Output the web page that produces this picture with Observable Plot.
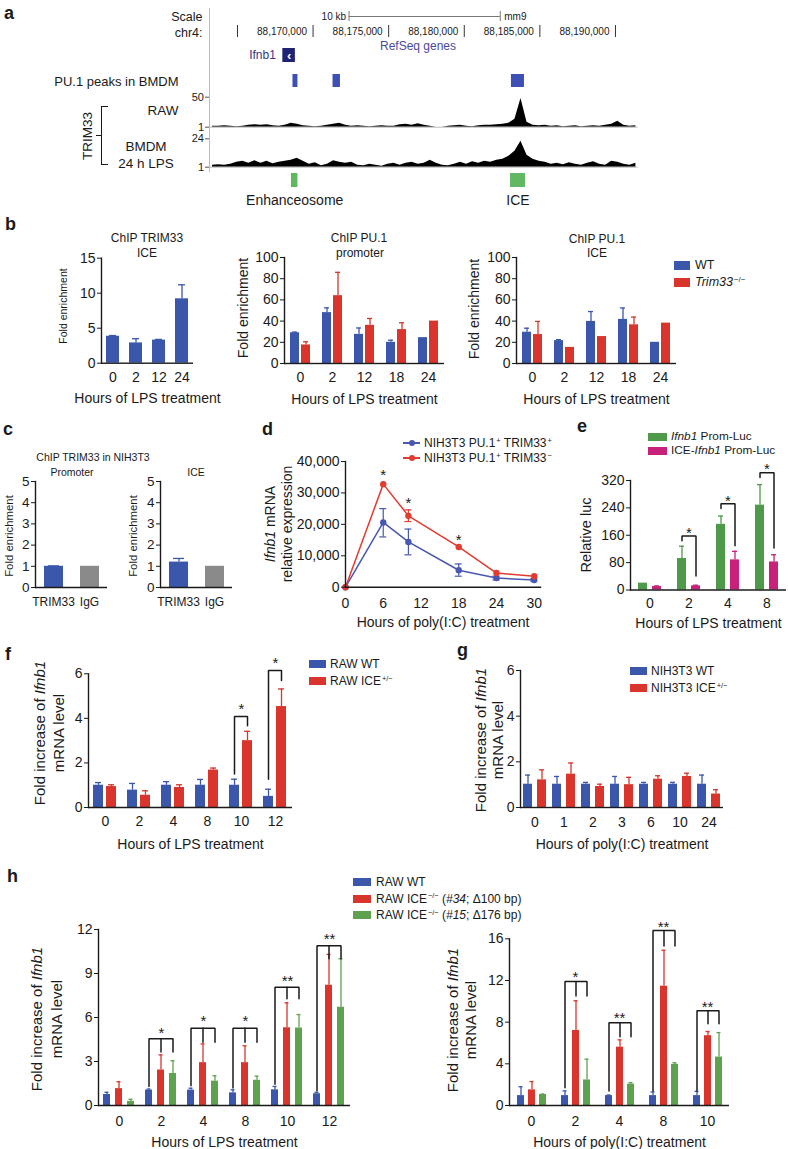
<!DOCTYPE html>
<html><head><meta charset="utf-8">
<script src="https://cdn.jsdelivr.net/npm/d3@7"></script>
<script src="https://cdn.jsdelivr.net/npm/@observablehq/plot@0.6"></script>
<style>
body{margin:0;background:#fff;}
#fig{position:relative;width:788px;height:1149px;overflow:hidden;font-family:"Liberation Sans",Arial,Helvetica,sans-serif;color:#1a1a1a;background:#fff;}
.t{position:absolute;white-space:nowrap;line-height:1;}
.p{position:absolute;}
.p svg{max-width:none;overflow:visible;}
.sup{font-size:0.62em;position:relative;top:-0.55em;margin-left:1px;}
.sw{position:absolute;}
</style></head><body><div id="fig"></div>
<script>
// ---------------- DATA ----------------
// Panel a (genome browser, mm9 chr4)
const genomeDomain = [88163150, 88191490];
const rulerTicks = [88165000, 88170000, 88175000, 88180000, 88185000, 88190000];
const rulerLabelTicks = [88170000, 88175000, 88180000, 88185000, 88190000];
const scaleBar = [88172380, 88182380];
const geneName = "Ifnb1";
const geneSpan = [88168000, 88168830];
const pu1Starts = [88168670, 88171320, 88183120];
const pu1Ends = [88169000, 88171810, 88183980];
const elementNames = ["Enhanceosome", "ICE"];
const elementStarts = [88168570, 88183060];
const elementEnds = [88169000, 88184050];
const trackStart = 88163150, binSize = 400;
const rawSignal = [2.6,2.6,3.4,2.6,1.8,2.6,4.3,5.1,4.3,5.1,
  3.4,2.6,4.3,7.5,5.9,3.4,2.6,1.8,2.6,4.3,
  5.9,7.5,4.3,2.6,3.4,2.6,1.8,2.6,3.4,2.6,
  2.6,5.1,5.9,4.3,6.7,4.3,2.6,1,1,2.6,
  3.4,4.3,2.6,1.8,3.4,4.3,4.3,5.1,5.9,7.5,
  14,48,9,4.3,3.4,4.3,2.6,3.4,1.8,2.6,
  3.4,1.8,2.6,3.4,2.6,4.3,5.9,10.8,4.3,2.6,3.4];
const bmdmSignal = [2.6,3.0,2.6,3.4,5.1,5.9,4.2,6.3,4.2,5.9,
  3.8,5.1,5.9,6.7,8.3,5.9,3.4,4.6,2.2,3.4,
  6.3,5.1,4.2,5.1,2.6,2.2,3.4,2.6,1.8,3.4,
  4.2,2.6,4.2,5.1,3.4,4.2,6.7,4.2,2.6,2.2,
  3.4,5.1,3.4,5.5,4.2,5.9,5.1,6.7,7.5,9.9,
  14,22,10.7,7.5,5.9,5.1,3.4,4.2,3.0,4.6,
  3.4,2.6,4.2,5.5,3.4,2.6,5.9,5.1,3.4,2.6,4.2];

// Panel b
const bHours1 = ["0","2","12","24"];
const bTrimIce = [3.85, 2.9, 3.3, 9.2];
const bTrimIceErr = [3.95, 3.5, 3.4, 11.2];
const bHours = ["0","2","12","18","24"];
const bPromWT = [29, 48, 27.5, 20, 24.4];
const bPromWTErr = [29.6, 52.5, 33.5, 22, null];
const bPromKO = [17.5, 64, 36, 32, 40];
const bPromKOErr = [20.5, 86, 42.5, 38.4, null];
const bIceWT = [29.5, 21.6, 39.7, 41.6, 20];
const bIceWTErr = [33.3, 22.5, 49, 52.4, null];
const bIceKO = [27.3, 15.2, 25.4, 36.5, 38.1];
const bIceKOErr = [39.7, null, null, 43.8, null];

// Panel c
const cTargets = ["TRIM33", "IgG"];
const cPromoter = [1.0, 1.0];
const cPromoterErr = [1.02, null];
const cIce = [1.2, 1.0];
const cIceErr = [1.37, null];

// Panel d
const dHours = [0, 6, 10, 18, 24, 30];
const dPlus = [0, 20600, 14400, 5400, 2900, 2300];
const dPlusLo = [null, 16000, 10300, 3500, 2300, 1900];
const dPlusHi = [null, 25000, 18500, 7400, 3500, 2700];
const dMinus = [0, 32800, 22700, 12800, 4500, 3500];
const dMinusLo = [null, null, 20900, null, null, null];
const dMinusHi = [null, null, 24600, null, null, null];
const dStarHours = [6, 10, 18];
const dStarY = [36800, 27900, 16100];

// Panel e
const eHours = ["0","2","4","8"];
const eProm = [20, 92, 192, 248];
const ePromErr = [null, 128, 216, 308];
const eIce = [10, 12, 88, 82];
const eIceErr = [12, 14, 113, 103];
const eBrackets = [{g:"2", top:158, left:144, right:41}, {g:"4", top:252, left:238, right:129}, {g:"8", top:343, left:329, right:123}];
const eStars = [{g:"2", y:179, t:"*"}, {g:"4", y:270, t:"*"}, {g:"8", y:364, t:"*"}];

// Panel f
const fHours = ["0","2","4","8","10","12"];
const fWT = [1.0, 0.78, 1.0, 1.0, 1.0, 0.5];
const fWTErr = [1.12, 1.08, 1.16, 1.26, 1.27, 0.82];
const fICE = [0.94, 0.55, 0.9, 1.68, 3.0, 4.53];
const fICEErr = [1.02, 0.75, 1.02, 1.77, 3.42, 5.32];
const fBrackets = [{g:"10", top:4.08, left:1.5, right:3.67}, {g:"12", top:6.15, left:1.27, right:5.7}];
const fStars = [{g:"10", y:4.57, t:"*"}, {g:"12", y:6.67, t:"*"}];

// Panel g
const gHours = ["0","1","2","3","6","10","24"];
const gWT = [1.02, 1.02, 1.02, 1.02, 1.02, 1.02, 1.02];
const gWTErr = [1.42, 1.36, 1.1, 1.36, 1.1, 1.1, 1.42];
const gICE = [1.21, 1.46, 0.92, 1.0, 1.24, 1.36, 0.59];
const gICEErr = [1.65, 1.95, 1.02, 1.32, 1.39, 1.5, 0.78];

// Panel h
const hHoursLPS = ["0","2","4","8","10","12"];
const hLpsWT = [0.75, 1.05, 1.05, 0.86, 1.07, 0.8];
const hLpsWTErr = [0.9, 1.12, 1.18, 1.07, 1.3, 0.9];
const hLps34 = [1.15, 2.42, 2.92, 2.92, 5.3, 8.2];
const hLps34Err = [1.62, 3.45, 4.2, 4.07, 7.0, 10.3];
const hLps15 = [0.28, 2.18, 1.66, 1.72, 5.28, 6.7];
const hLps15Err = [0.42, 3.05, 2.03, 2.0, 6.2, 10.0];
const hLpsBrackets = [{g:"2", top:4.55, left:1.3, mid:3.64, right:3.64}, {g:"4", top:5.27, left:1.35, mid:4.32, right:4.32}, {g:"8", top:5.27, left:1.2, mid:4.32, right:4.32}, {g:"10", top:8.07, left:1.45, mid:7.27, right:7.27}, {g:"12", top:10.9, left:1.0, mid:10.0, right:10.0}];
const hLpsStars = [{g:"2", y:5.23, t:"*"}, {g:"4", y:6.0, t:"*"}, {g:"8", y:6.0, t:"*"}, {g:"10", y:8.75, t:"**"}, {g:"12", y:11.6, t:"**"}];
const hHoursPIC = ["0","2","4","8","10"];
const hPicWT = [0.95, 0.95, 0.95, 0.95, 0.95];
const hPicWTErr = [1.8, 1.4, 1.0, 1.3, 1.35];
const hPic34 = [1.5, 7.2, 5.6, 11.45, 6.7];
const hPic34Err = [2.3, 10.05, 6.3, 14.9, 7.1];
const hPic15 = [1.05, 2.45, 2.05, 3.95, 4.65];
const hPic15Err = [1.1, 4.45, 2.2, 4.1, 7.0];
const hPicBrackets = [{g:"2", top:11.9, left:1.7, mid:10.5, right:10.5}, {g:"4", top:7.95, left:1.4, mid:6.6, right:6.6}, {g:"8", top:16.8, left:1.4, mid:15.3, right:15.3}, {g:"10", top:9.1, left:1.4, mid:7.85, right:7.85}];
const hPicStars = [{g:"2", y:12.7, t:"*"}, {g:"4", y:8.8, t:"**"}, {g:"8", y:17.5, t:"**"}, {g:"10", y:9.85, t:"**"}];

// ---------------- STYLE ----------------
const FONT = '"Liberation Sans", Arial, Helvetica, sans-serif';
const INK = "#1a1a1a";
const BLUE = "#3a57ab", RED = "#d9352c", GREY = "#8a8a8a";
const HGREEN = "#5ea14e", EGREEN = "#4f9a4a", MAGENTA = "#c72179";
const DBLUE = "#4858b0", DRED = "#e23b2f";
const fig = document.getElementById("fig");
const plain = d => String(d);

function place(node, left, top, width) {
  const d = document.createElement("div");
  d.className = "p";
  d.style.left = left + "px"; d.style.top = top + "px"; d.style.width = width + "px";
  d.appendChild(node); fig.appendChild(d); return d;
}
function txt(html, x, y, o = {}) {
  const d = document.createElement("div");
  d.className = "t";
  d.innerHTML = html;
  d.style.left = x + "px"; d.style.top = y + "px";
  d.style.fontSize = (o.size || 12) + "px";
  if (o.weight) d.style.fontWeight = o.weight;
  if (o.color) d.style.color = o.color;
  if (o.lh) { d.style.lineHeight = o.lh + "px"; d.style.textAlign = "center"; }
  const a = o.anchor || "start";
  const tx = a === "start" ? "0" : a === "middle" ? "-50%" : "-100%";
  d.style.transform = `translate(${tx},-50%)` + (o.rotate ? ` rotate(${o.rotate}deg)` : "");
  fig.appendChild(d); return d;
}
function swatch(x, y, w, h, color) {
  const d = document.createElement("div");
  d.className = "sw";
  Object.assign(d.style, {left: x + "px", top: (y - h / 2) + "px", width: w + "px", height: h + "px", background: color});
  fig.appendChild(d);
}
function letter(ch, x, baseline) { txt(ch, x, baseline - 6.3, {size: 18, weight: "bold"}); }
const baseStyle = (size) => ({fontFamily: FONT, fontSize: size + "px", color: INK, background: "transparent", overflow: "visible"});

// ---------------- PANEL A ----------------
const gx = {domain: genomeDomain, axis: null};
const aW = 788, aL = 209, aR = 788 - 637.5;
letter("a", 4, 19);
txt("Scale", 202.5, 17, {size: 12.5, anchor: "end"});
txt("chr4:", 202.5, 33, {size: 12.5, anchor: "end"});
txt("RefSeq genes", 418, 46, {size: 12, anchor: "middle", color: "#4a4a9c"});
txt("PU.1 peaks in BMDM", 178.5, 81, {size: 13, anchor: "end"});
txt("RAW", 178.5, 111, {size: 13.5, anchor: "end"});
txt("BMDM", 146, 147, {size: 13.5, anchor: "middle"});
txt("24 h LPS", 146, 164, {size: 13.5, anchor: "middle"});
txt("TRIM33", 87.5, 136, {size: 13.5, anchor: "middle", rotate: -90});
(function bracket() {
  const b = document.createElement("div");
  Object.assign(b.style, {position: "absolute", left: "101px", top: "106px", width: "6px", height: "57px", borderLeft: "1.5px solid " + INK, borderTop: "1.5px solid " + INK, borderBottom: "1.5px solid " + INK});
  fig.appendChild(b);
  const m = document.createElement("div");
  Object.assign(m.style, {position: "absolute", left: "96px", top: "134.5px", width: "5px", height: "0", borderTop: "1.5px solid " + INK});
  fig.appendChild(m);
  const pink = document.createElement("div");
  Object.assign(pink.style, {position: "absolute", left: "208.5px", top: "8px", width: "1px", height: "164px", background: "#f3a3b3"});
  fig.appendChild(pink);
})();

// scale bar
place(Plot.plot({
  width: aW, height: 10, marginLeft: aL, marginRight: aR, marginTop: 0, marginBottom: 0,
  x: gx, y: {domain: [-1, 1], axis: null}, style: baseStyle(10),
  marks: [
    Plot.ruleY([{a: scaleBar[0], b: scaleBar[1]}], {x1: "a", x2: "b", y: () => 0, stroke: "#777"}),
    Plot.tickX(scaleBar, {x: d => d, stroke: "#777"}),
    Plot.text([scaleBar[0]], {x: d => d, y: () => 0, text: () => "10 kb", textAnchor: "end", dx: -3, fontSize: 10}),
    Plot.text([scaleBar[1]], {x: d => d, y: () => 0, text: () => "mm9", textAnchor: "start", dx: 4, fontSize: 10})
  ]
}), 0, 11, aW);
// ruler
place(Plot.plot({
  width: aW, height: 12, marginLeft: aL, marginRight: aR, marginTop: 0, marginBottom: 0,
  x: gx, style: baseStyle(10),
  marks: [
    Plot.tickX(rulerTicks, {x: d => d, stroke: "#333"}),
    Plot.text(rulerLabelTicks, {x: d => d, text: d => d3.format(",")(d), textAnchor: "end", dx: -6, fontSize: 10})
  ]
}), 0, 25, aW);
// gene
place(Plot.plot({
  width: aW, height: 14, marginLeft: aL, marginRight: aR, marginTop: 0, marginBottom: 0,
  x: gx, style: baseStyle(12),
  marks: [
    Plot.rect([{s: geneSpan[0], e: geneSpan[1], n: geneName}], {x1: "s", x2: "e", fill: "#1f2373"}),
    Plot.text([{s: geneSpan[0], e: geneSpan[1]}], {x: d => (d.s + d.e) / 2, text: () => "‹", fill: "white", fontSize: 13, fontWeight: "bold"}),
    Plot.text([{s: geneSpan[0], n: geneName}], {x: "s", text: "n", textAnchor: "end", dx: -7, fill: "#36368a", fontSize: 12})
  ]
}), 0, 48, aW);
// PU.1 peaks
const pu1Rows = pu1Starts.map((s, i) => ({s, e: pu1Ends[i]}));
place(Plot.plot({
  width: aW, height: 13, marginLeft: aL, marginRight: aR, marginTop: 0, marginBottom: 0,
  x: gx, style: baseStyle(12),
  marks: [Plot.rect(pu1Rows, {x1: "s", x2: "e", fill: "#3e4fb5"})]
}), 0, 74, aW);
// tracks
function track(signal, ymax, top, h, mT, mB) {
  const rows = signal.map((v, i) => ({pos: trackStart + binSize * (i + 0.5), v}));
  return place(Plot.plot({
    width: aW, height: h, marginLeft: aL, marginRight: aR, marginTop: mT, marginBottom: mB,
    x: gx, y: {domain: [1, ymax]}, style: baseStyle(11),
    marks: [
      Plot.ruleY([1], {stroke: "#bbb"}),
      Plot.areaY(rows, {x: "pos", y1: () => 1, y2: "v", fill: "black", curve: "linear", clip: true}),
      Plot.axisY({ticks: [1, ymax], tickFormat: plain, tickSize: 4, tickPadding: 1.5, fontSize: 11, label: null, stroke: "#555"})
    ]
  }), 0, top, aW);
}
track(rawSignal, 50, 88, 44, 8.7, 5.3);
track(bmdmSignal, 24, 132, 40, 6.3, 5.3);
// elements
const elemRows = elementNames.map((n, i) => ({n, s: elementStarts[i], e: elementEnds[i]}));
place(Plot.plot({
  width: aW, height: 14, marginLeft: aL, marginRight: aR, marginTop: 0, marginBottom: 0,
  x: gx, style: baseStyle(12),
  marks: [Plot.rect(elemRows, {x1: "s", x2: "e", fill: "#62b862"})]
}), 0, 172.7, aW);
place(Plot.plot({
  width: aW, height: 16, marginLeft: aL, marginRight: aR, marginTop: 0, marginBottom: 0,
  x: gx, style: baseStyle(14),
  marks: [Plot.text(elemRows, {x: d => (d.s + d.e) / 2, text: "n", fontSize: 14})]
}), 0, 192, aW);

// ---------------- GROUPED BAR HELPER ----------------
function groupedBars(c) {
  const rows = [];
  c.groups.forEach((g, gi) => c.series.forEach((s, si) => {
    rows.push({g, s, v: c.vals[si][gi], e: c.errs[si][gi], k: c.colorBy === "g" ? g : s});
  }));
  const errRows = rows.filter(d => d.e != null);
  const marks = [
    Plot.barY(rows, {fx: "g", x: "s", y: "v", fill: "k"}),
    Plot.ruleX(errRows, {fx: "g", x: "s", y1: "v", y2: "e", stroke: "k", strokeWidth: 1.3}),
    Plot.tickY(errRows, {fx: "g", x: "s", y: "e", stroke: "k", strokeWidth: 1.3, insetLeft: c.cap, insetRight: c.cap}),
    Plot.ruleY([c.y[0]], {stroke: INK, strokeWidth: 1.4}),
    Plot.frame({anchor: "left", facetAnchor: "left", stroke: INK, strokeWidth: 1.4}),
    Plot.axisY({ticks: c.ticks, tickSize: 4, tickPadding: 2, fontSize: c.yFont || 14, label: null, tickFormat: c.tickFormat || plain}),
    Plot.axisFx({anchor: "bottom", tickSize: 0, tickPadding: c.pad, fontSize: c.xFont || 14, label: c.xLabel || null, labelAnchor: "center", labelOffset: c.labelOffset})
  ];
  if (c.brackets) {
    const first = c.series[0], last = c.series[c.series.length - 1];
    const pts = [];
    c.brackets.forEach((b, i) => {
      pts.push({id: i + "a", g: b.g, s: first, y: b.left}, {id: i + "a", g: b.g, s: first, y: b.top},
               {id: i + "a", g: b.g, s: last, y: b.top}, {id: i + "a", g: b.g, s: last, y: b.right});
      if (b.mid != null) pts.push({id: i + "b", g: b.g, s: c.series[1], y: b.top}, {id: i + "b", g: b.g, s: c.series[1], y: b.mid});
    });
    marks.push(Plot.line(pts, {fx: "g", x: "s", y: "y", z: "id", stroke: INK, strokeWidth: 1.5, strokeLinejoin: "miter"}));
  }
  if (c.stars) marks.push(Plot.text(c.stars, {fx: "g", y: "y", text: "t", fontSize: 15, dy: 4}));
  const plot = Plot.plot({
    width: c.width, height: c.height, marginLeft: c.mL, marginRight: c.mR, marginTop: c.mT, marginBottom: c.mB,
    style: baseStyle(14),
    fx: {domain: c.groups, padding: 0},
    x: {domain: c.series, paddingInner: c.pIn, paddingOuter: c.pOut, axis: null},
    y: {domain: c.y},
    color: {domain: c.colorBy === "g" ? c.groups : c.series, range: c.colors},
    marks
  });
  return place(plot, c.left, c.top, c.width);
}
function yLabel(html, x, y, size, lh) { txt(html, x, y, {size, anchor: "middle", rotate: -90, lh}); }
const I = s => `<i>${s}</i>`;
const sup = s => `<span class="sup">${s}</span>`;

// ---------------- PANEL B ----------------
letter("b", 5, 230);
groupedBars({left: 60, top: 240, width: 140, height: 170, mL: 40, mR: 7, mT: 17.7, mB: 47.3,
  groups: bHours1, series: ["WT"], colors: [BLUE], vals: [bTrimIce], errs: [bTrimIceErr],
  y: [0, 15], ticks: [0, 5, 10, 15], pIn: 0, pOut: 0.33, cap: 3, pad: 9, labelOffset: 40, xLabel: "Hours of LPS treatment"});
groupedBars({left: 240, top: 240, width: 215, height: 170, mL: 42, mR: 10, mT: 17, mB: 47,
  groups: bHours, series: ["WT", "KO"], colors: [BLUE, RED], vals: [bPromWT, bPromKO], errs: [bPromWTErr, bPromKOErr],
  y: [0, 100], ticks: [0, 20, 40, 60, 80, 100], pIn: 0.21, pOut: 0.53, cap: 2, pad: 9, labelOffset: 40, xLabel: "Hours of LPS treatment"});
groupedBars({left: 473, top: 240, width: 214, height: 170, mL: 42, mR: 10, mT: 17, mB: 47,
  groups: bHours, series: ["WT", "KO"], colors: [BLUE, RED], vals: [bIceWT, bIceKO], errs: [bIceWTErr, bIceKOErr],
  y: [0, 100], ticks: [0, 20, 40, 60, 80, 100], pIn: 0.21, pOut: 0.53, cap: 2, pad: 9, labelOffset: 40, xLabel: "Hours of LPS treatment"});
txt("ChIP TRIM33", 147, 238, {size: 12, anchor: "middle"});
txt("ICE", 147, 253, {size: 12, anchor: "middle"});
txt("ChIP PU.1", 359, 238, {size: 12, anchor: "middle"});
txt("promoter", 360, 253, {size: 12, anchor: "middle"});
txt("ChIP PU.1", 597, 239, {size: 12, anchor: "middle"});
txt("ICE", 597, 253, {size: 12, anchor: "middle"});
yLabel("Fold enrichment", 63, 306, 10.5);
yLabel("Fold enrichment", 243, 308, 14);
yLabel("Fold enrichment", 474, 309, 14);
swatch(674, 265, 16, 9, BLUE); txt("WT", 695, 265, {size: 12.5});
swatch(674, 282, 16, 9, RED); txt(I("Trim33") + sup("−/−"), 695, 282, {size: 12.5});

// ---------------- PANEL C ----------------
letter("c", 3, 435);
txt("ChIP TRIM33 in NIH3T3", 93, 457, {size: 10.5, anchor: "middle"});
txt("Promoter", 72, 472, {size: 10.5, anchor: "middle"});
txt("ICE", 196, 472, {size: 10.5, anchor: "middle"});
groupedBars({left: 10, top: 470, width: 100, height: 140, mL: 25, mR: 3, mT: 11, mB: 23,
  groups: cTargets, series: ["v"], colorBy: "g", colors: [BLUE, GREY], vals: [cPromoter], errs: [cPromoterErr],
  y: [0, 5], ticks: [0, 1, 2, 3, 4, 5], pIn: 0, pOut: 0.447, cap: 4, pad: 10, xFont: 12, yFont: 13.5});
groupedBars({left: 135, top: 470, width: 100, height: 140, mL: 25, mR: 3, mT: 11, mB: 23,
  groups: cTargets, series: ["v"], colorBy: "g", colors: [BLUE, GREY], vals: [cIce], errs: [cIceErr],
  y: [0, 5], ticks: [0, 1, 2, 3, 4, 5], pIn: 0, pOut: 0.447, cap: 4, pad: 10, xFont: 12, yFont: 13.5});
yLabel("Fold enrichment", 10, 536, 11.4);
yLabel("Fold enrichment", 134, 536, 11.4);

// ---------------- PANEL D ----------------
letter("d", 262, 435);
(function () {
  const rows = [], err = [];
  dHours.forEach((h, i) => {
    rows.push({h, v: dPlus[i], s: "plus"});
    if (dPlusLo[i] != null) err.push({h, lo: dPlusLo[i], hi: dPlusHi[i], s: "plus"});
  });
  dHours.forEach((h, i) => {
    rows.push({h, v: dMinus[i], s: "minus"});
    if (dMinusLo[i] != null) err.push({h, lo: dMinusLo[i], hi: dMinusHi[i], s: "minus"});
  });
  const stars = dStarHours.map((h, i) => ({h, y: dStarY[i]}));
  place(Plot.plot({
    width: 260, height: 190, marginLeft: 55, marginRight: 10, marginTop: 16, marginBottom: 48.3,
    style: baseStyle(14),
    x: {domain: [0, 31]}, y: {domain: [0, 40000]},
    color: {domain: ["plus", "minus"], range: [DBLUE, DRED]},
    marks: [
      Plot.ruleX(err, {x: "h", y1: "lo", y2: "hi", stroke: "s", strokeWidth: 1.2}),
      Plot.ruleY(err, {x1: "h", x2: "h", y: "hi", stroke: "s", strokeWidth: 1.2, insetLeft: -3.5, insetRight: -3.5}),
      Plot.ruleY(err, {x1: "h", x2: "h", y: "lo", stroke: "s", strokeWidth: 1.2, insetLeft: -3.5, insetRight: -3.5}),
      Plot.line(rows, {x: "h", y: "v", z: "s", stroke: "s", strokeWidth: 1.5}),
      Plot.dot(rows, {x: "h", y: "v", fill: "s", r: 3.2}),
      Plot.text(stars, {x: "h", y: "y", text: () => "*", fontSize: 15, dy: 4}),
      Plot.frame({anchor: "left", stroke: INK, strokeWidth: 1.4}),
      Plot.frame({anchor: "bottom", stroke: INK, strokeWidth: 1.4}),
      Plot.axisY({ticks: [0, 10000, 20000, 30000, 40000], tickFormat: d3.format(","), tickSize: 4, tickPadding: 2, fontSize: 14, label: null}),
      Plot.axisX({ticks: [0, 6, 12, 18, 24, 30], tickFormat: plain, tickSize: 0, tickPadding: 11, fontSize: 14, label: "Hours of poly(I:C) treatment", labelAnchor: "center", labelOffset: 40, labelArrow: false})
    ]
  }), 290, 445, 260);
})();
yLabel(I("Ifnb1") + " mRNA<br>relative expression", 278.5, 524, 14, 17);
(function () {
  [[443, DBLUE, "NIH3T3 PU.1" + sup("+") + " TRIM33" + sup("+")], [458, DRED, "NIH3T3 PU.1" + sup("+") + " TRIM33" + sup("−")]].forEach(([y, c, t]) => {
    const l = document.createElement("div");
    Object.assign(l.style, {position: "absolute", left: "403px", top: (y - 0.75) + "px", width: "17px", height: "1.5px", background: c});
    fig.appendChild(l);
    const dot = document.createElement("div");
    Object.assign(dot.style, {position: "absolute", left: (411.5 - 3) + "px", top: (y - 3) + "px", width: "6px", height: "6px", borderRadius: "50%", background: c});
    fig.appendChild(dot);
    txt(t, 424, y, {size: 12});
  });
})();

// ---------------- PANEL E ----------------
letter("e", 577, 432);
groupedBars({left: 585, top: 455, width: 203, height: 175, mL: 44, mR: 1, mT: 25, mB: 40.5,
  groups: eHours, series: ["prom", "ice"], colors: [EGREEN, MAGENTA], vals: [eProm, eIce], errs: [ePromErr, eIceErr],
  y: [0, 320], ticks: [0, 80, 160, 240, 320], pIn: 0.33, pOut: 0.48, cap: 2, pad: 8, labelOffset: 37.5,
  xLabel: "Hours of LPS treatment", brackets: eBrackets, stars: eStars});
yLabel("Relative luc", 586, 535, 14.5);
swatch(648, 437, 19, 8, EGREEN); txt(I("Ifnb1") + " Prom-Luc", 671, 437, {size: 11.8});
swatch(648, 450.5, 19, 8, MAGENTA); txt("ICE-" + I("Ifnb1") + " Prom-Luc", 671, 450.5, {size: 11.8});

// ---------------- PANEL F ----------------
letter("f", 5, 660);
groupedBars({left: 40, top: 645, width: 255, height: 205, mL: 48, mR: 3, mT: 28.3, mB: 43,
  groups: fHours, series: ["WT", "ICE"], colors: [BLUE, RED], vals: [fWT, fICE], errs: [fWTErr, fICEErr],
  y: [0, 6], ticks: [0, 2, 4, 6], pIn: 0.23, pOut: 0.42, cap: 2, pad: 9, labelOffset: 41,
  xLabel: "Hours of LPS treatment", brackets: fBrackets, stars: fStars});
yLabel("Fold increase of " + I("Ifnb1") + "<br>mRNA level", 49, 733, 15, 19);
swatch(309, 664, 17, 8, BLUE); txt("RAW WT", 330, 664, {size: 12});
swatch(309, 681, 17, 8, RED); txt("RAW ICE" + sup("+/−"), 330, 681, {size: 12});

// ---------------- PANEL G ----------------
letter("g", 457, 656);
groupedBars({left: 475, top: 655, width: 253, height: 195, mL: 45, mR: 5, mT: 15, mB: 43,
  groups: gHours, series: ["WT", "ICE"], colors: [BLUE, RED], vals: [gWT, gICE], errs: [gWTErr, gICEErr],
  y: [0, 6], ticks: [0, 2, 4, 6], pIn: 0.33, pOut: 0.2, cap: 2, pad: 10, labelOffset: 41,
  xLabel: "Hours of poly(I:C) treatment"});
yLabel("Fold increase of " + I("Ifnb1") + "<br>mRNA level", 489, 740, 15, 17);
swatch(630, 671, 17, 8, BLUE); txt("NIH3T3 WT", 651, 671, {size: 12});
swatch(630, 688, 17, 8, RED); txt("NIH3T3 ICE" + sup("+/−"), 651, 688, {size: 12});

// ---------------- PANEL H ----------------
letter("h", 7, 882);
groupedBars({left: 50, top: 905, width: 310, height: 244, mL: 45, mR: 8, mT: 24, mB: 44,
  groups: hHoursLPS, series: ["WT", "c34", "c15"], colors: [BLUE, RED, HGREEN], vals: [hLpsWT, hLps34, hLps15], errs: [hLpsWTErr, hLps34Err, hLps15Err],
  y: [0, 12], ticks: [0, 3, 6, 9, 12], pIn: 0.4, pOut: 0.44, cap: 1.5, pad: 11, labelOffset: 41.7,
  xLabel: "Hours of LPS treatment", brackets: hLpsBrackets, stars: hLpsStars});
groupedBars({left: 462, top: 905, width: 275, height: 244, mL: 45, mR: 7, mT: 33.3, mB: 44,
  groups: hHoursPIC, series: ["WT", "c34", "c15"], colors: [BLUE, RED, HGREEN], vals: [hPicWT, hPic34, hPic15], errs: [hPicWTErr, hPic34Err, hPic15Err],
  y: [0, 16], ticks: [0, 4, 8, 12, 16], pIn: 0.375, pOut: 0.55, cap: 1.5, pad: 11, labelOffset: 41.7,
  xLabel: "Hours of poly(I:C) treatment", brackets: hPicBrackets, stars: hPicStars});
yLabel("Fold increase of " + I("Ifnb1") + "<br>mRNA level", 47, 1019, 15, 20);
yLabel("Fold increase of " + I("Ifnb1") + "<br>mRNA level", 462, 1020, 15, 18);
swatch(353, 882, 18, 8, BLUE); txt("RAW WT", 376, 882, {size: 12});
swatch(353, 898.5, 18, 8, RED); txt("RAW ICE" + sup("−/−") + " (" + I("#34") + "; Δ100 bp)", 376, 898.5, {size: 12});
swatch(353, 915, 18, 8, HGREEN); txt("RAW ICE" + sup("−/−") + " (" + I("#15") + "; Δ176 bp)", 376, 915, {size: 12});
</script></body></html>
